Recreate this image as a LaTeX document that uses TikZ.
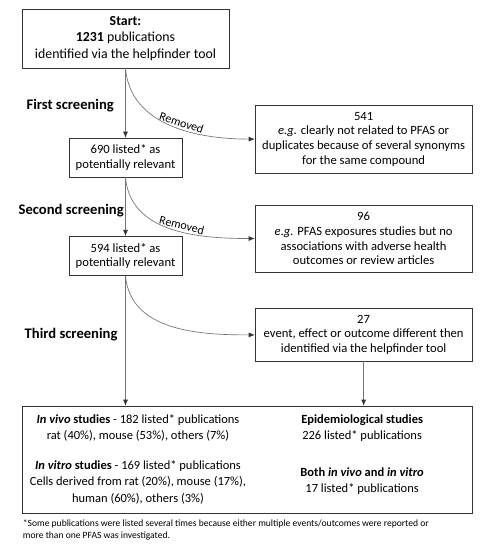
\documentclass[tikz,border=0pt]{standalone}
\usepackage{fontspec}
\setmainfont{Carlito}
\usetikzlibrary{arrows.meta,positioning}

\begin{document}
\begin{tikzpicture}[
    font=\fontsize{9.5}{11}\selectfont,
    >=Latex,
    flow/.style={draw=black!55, line width=0.5pt, -{Latex[length=1.6mm,width=1.3mm,color=black!80]}},
    box/.style={
        draw=black!80,
        line width=0.6pt,
        fill=white,
        align=center,
        inner sep=1mm
    },
    smallbox/.style={box, minimum width=2.99cm, minimum height=1.03cm},
    sidebox/.style={box, minimum width=5.74cm},
    stagelabel/.style={font=\fontsize{11}{13}\selectfont\bfseries, anchor=west},
    removed/.style={font=\fontsize{9}{10}\selectfont, sloped, above, inner sep=1.5pt},
    inner/.style={align=center, font=\fontsize{9.4}{12.4}\selectfont}
]
\useasboundingbox (0,0) rectangle (12.73,-14.55);

\node[box, minimum width=5.48cm, minimum height=1.56cm, font=\fontsize{10.4}{12.75}\selectfont] (start) at (3.32,-1.02)
{\textbf{Start:}\\\textbf{1231} publications\\identified via the helpfinder tool};

\node[smallbox] (first) at (3.32,-4.17)
{690 listed* as\\potentially relevant};
\node[smallbox] (second) at (3.32,-6.77)
{594 listed* as\\potentially relevant};

\node[sidebox, minimum height=1.80cm] (out541) at (9.62,-3.68)
{541\\\textit{e.g.} clearly not related to PFAS or\\duplicates because of several synonyms\\for the same compound};
\node[sidebox, minimum height=1.77cm] (out96) at (9.62,-6.31)
{96\\\textit{e.g.} PFAS exposures studies but no\\associations with adverse health\\outcomes or review articles};
\node[sidebox, minimum height=1.38cm] (out27) at (9.62,-8.86)
{27\\event, effect or outcome different then\\identified via the helpfinder tool};

\node[stagelabel] (lab1) at (0.58,-2.80) {First screening};
\node[stagelabel] (lab2) at (0.37,-5.56) {Second screening};
\node[stagelabel] (lab3) at (0.53,-8.86) {Third screening};

\node[box, minimum width=11.91cm, minimum height=2.83cm] (result) at (6.54,-12.16) {};
\node[inner] (vivo) at (3.65,-11.32)
{\textbf{\textit{In vivo} studies} - 182 listed* publications\\rat (40\%), mouse (53\%), others (7\%)};
\node[inner] (vitro) at (3.65,-12.75)
{\textbf{\textit{In vitro} studies} - 169 listed* publications\\Cells derived from rat (20\%), mouse (17\%),\\human (60\%), others (3\%)};
\node[inner] (epi) at (9.58,-11.32)
{\textbf{Epidemiological studies}\\226 listed* publications};
\node[inner] (both) at (9.58,-12.73)
{\textbf{Both \textit{in vivo} and \textit{in vitro}}\\17 listed* publications};

\node[anchor=north west, align=left, inner sep=0pt, font=\fontsize{7.2}{9.4}\selectfont] (note) at (0.6,-13.74)
{*Some publications were listed several times because either multiple events/outcomes were reported or\\more than one PFAS was investigated.};

\draw[flow] (start) -- (first);
\draw[flow] (first) -- (second);
\draw[flow] (second) -- (second |- result.north);
\draw[flow] (out27) -- (out27 |- result.north);
\draw[flow] (start.south) to[out=-85, in=180] node[removed, pos=0.56] {Removed} (out541.west);
\draw[flow] (first.south) to[out=-85, in=180] node[removed, pos=0.56] {Removed} (out96.west);
\draw[flow] (second.south) to[out=-85, in=180] (out27.west);

\end{tikzpicture}
\end{document}
